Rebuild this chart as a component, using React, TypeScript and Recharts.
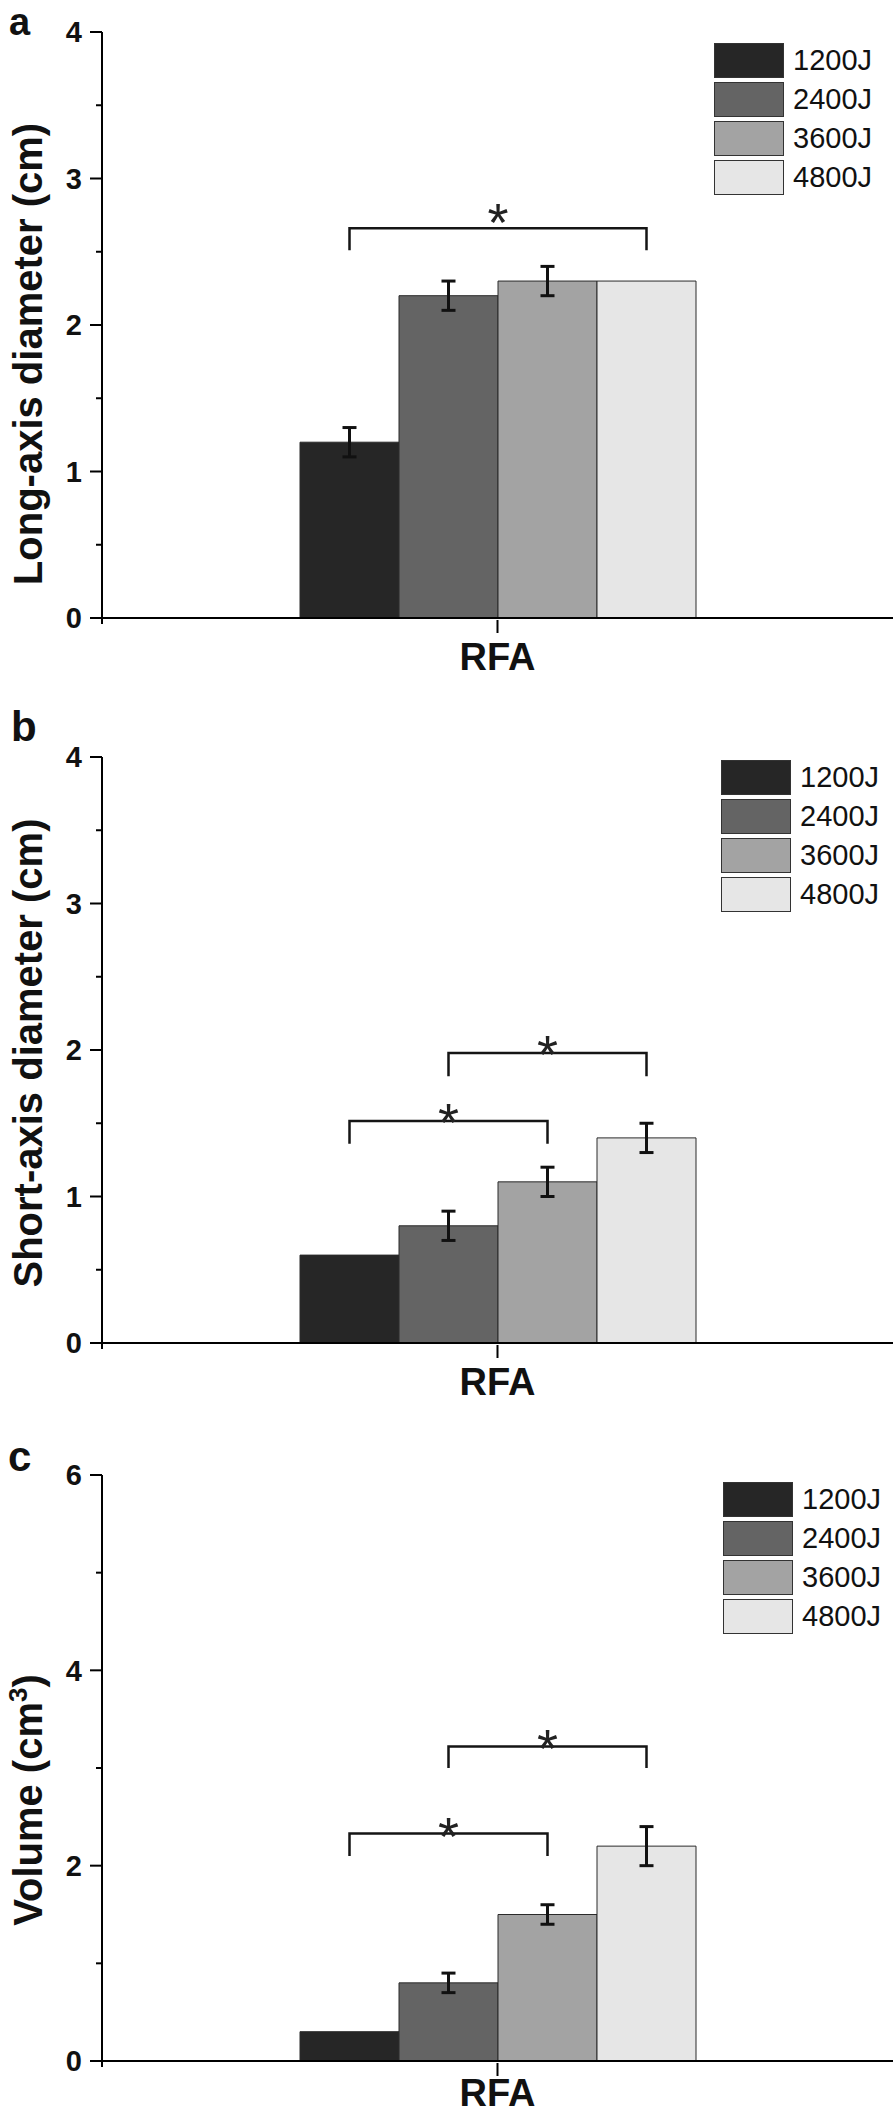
import React from 'react';
import { BarChart, Bar, XAxis, YAxis, ErrorBar } from 'recharts';

// ---------- data ----------
const categories = ['RFA'];
const seriesNames = ['1200J', '2400J', '3600J', '4800J'];
const seriesColors = ['#262626', '#646464', '#a3a3a3', '#e6e6e6'];

const longAxisMeans = [1.2, 2.2, 2.3, 2.3];
const longAxisErrors = [0.1, 0.1, 0.1, 0];
const shortAxisMeans = [0.6, 0.8, 1.1, 1.4];
const shortAxisErrors = [0, 0.1, 0.1, 0.1];
const volumeMeans = [0.3, 0.8, 1.5, 2.2];
const volumeErrors = [0, 0.1, 0.1, 0.2];

const diameterTicks = [0, 0.5, 1, 1.5, 2, 2.5, 3, 3.5, 4];
const volumeTicks = [0, 1, 2, 3, 4, 5, 6];

// significance brackets (series index from/to, bracket level, leg foot, star level)
const longAxisBrackets = [{ from: 0, to: 3, top: 2.66, foot: 2.51, star: 2.79 }];
const shortAxisBrackets = [
  { from: 0, to: 2, top: 1.515, foot: 1.36, star: 1.59 },
  { from: 1, to: 3, top: 1.98, foot: 1.82, star: 2.055 },
];
const volumeBrackets = [
  { from: 0, to: 2, top: 2.33, foot: 2.1, star: 2.43 },
  { from: 1, to: 3, top: 3.22, foot: 3.0, star: 3.33 },
];

type Bracket = { from: number; to: number; top: number; foot: number; star: number };

const FONT = "'Liberation Sans', Arial, Helvetica, sans-serif";

const buildRows = (means: number[], errors: number[]) =>
  categories.map((c) => {
    const row: Record<string, any> = { category: c };
    seriesNames.forEach((s, i) => {
      row[s] = means[i];
      row[s + '_err'] = errors[i] ? errors[i] : null;
    });
    return row;
  });

const YTick = (props: any) => {
  const { x, y, payload, majorStep } = props;
  const v = payload.value;
  const r = v / majorStep;
  const major = Math.abs(r - Math.round(r)) < 1e-6;
  return (
    <g>
      <line x1={x - (major ? 12 : 6)} x2={x} y1={y} y2={y} stroke="#000" strokeWidth={2} />
      {v === 0 && <line x1={x} x2={x} y1={y} y2={y + 6} stroke="#000" strokeWidth={2} />}
      {major && (
        <text x={x - 20} y={y} dy="0.36em" textAnchor="end" fontSize={29} fontWeight="bold" fontFamily={FONT} fill="#111">
          {v}
        </text>
      )}
    </g>
  );
};

const CornerTick = (props: any) => {
  const { x, y } = props;
  return <line x1={x} x2={x} y1={y} y2={y + 6} stroke="#000" strokeWidth={2} />;
};

const XTick = (props: any) => {
  const { x, y, payload, labelGap } = props;
  return (
    <g>
      <line x1={x} x2={x} y1={y} y2={y + 13} stroke="#000" strokeWidth={2} />
      <text x={x} y={y + labelGap} dy="0.71em" textAnchor="middle" fontSize={38} fontWeight="bold" fontFamily={FONT} fill="#111">
        {payload.value}
      </text>
    </g>
  );
};

// significance bracket drawn from the geometry of the "from" bar (library layout)
const BracketMark = (props: any) => {
  const { viewBox, value, brackets } = props;
  if (!viewBox || !value || !brackets || !brackets.length) return null;
  const { x, y, width, height } = viewBox;
  const top = Math.min(y, y + height);
  const h = Math.abs(height);
  const base = top + h;
  const pxPerUnit = h / value;
  const toY = (v: number) => base - v * pxPerUnit;
  const cx = x + width / 2;
  return (
    <g>
      {brackets.map((b: Bracket, k: number) => {
        const x1 = cx;
        const x2 = cx + (b.to - b.from) * width;
        const yTop = toY(b.top);
        const yFoot = toY(b.foot);
        const ys = toY(b.star);
        return (
          <g key={k}>
            <path
              d={`M${x1},${yFoot}L${x1},${yTop}L${x2},${yTop}L${x2},${yFoot}`}
              fill="none"
              stroke="#151515"
              strokeWidth={2.5}
            />
            <text x={(x1 + x2) / 2} y={ys} dy="0.58em" textAnchor="middle" fontSize={54} fontFamily={FONT} fill="#222">
              *
            </text>
          </g>
        );
      })}
    </g>
  );
};

const LegendBox = ({ left, top }: { left: number; top: number }) => (
  <div style={{ position: 'absolute', left, top }}>
    {seriesNames.map((s, i) => (
      <div key={s} style={{ display: 'flex', alignItems: 'center', height: 35, marginBottom: 4 }}>
        <div
          style={{
            width: 70,
            height: 35,
            boxSizing: 'border-box',
            background: seriesColors[i],
            border: '1.5px solid #333',
          }}
        />
        <span style={{ marginLeft: 9, fontSize: 29, fontFamily: FONT, color: '#111', lineHeight: '35px' }}>{s}</span>
      </div>
    ))}
  </div>
);

type PanelProps = {
  top: number;
  title: string;
  superscript?: string;
  titleShift: number;
  means: number[];
  errors: number[];
  yMax: number;
  ticks: number[];
  majorStep: number;
  brackets: Bracket[];
  legendLeft: number;
  legendTop: number;
  labelGap: number;
};

const Panel = (p: PanelProps) => {
  const rows = buildRows(p.means, p.errors);
  const titleLabel = (props: any) => {
    const vb = props.viewBox || {};
    const cx = 42;
    const cy = (vb.y || 0) + (vb.height || 0) / 2 + p.titleShift;
    return (
      <text
        x={cx}
        y={cy}
        transform={`rotate(-90, ${cx}, ${cy})`}
        textAnchor="middle"
        fontSize={40}
        fontWeight="bold"
        fontFamily={FONT}
        fill="#111"
      >
        {p.title}
        {p.superscript && (
          <>
            <tspan dy={-15} fontSize={26}>
              {p.superscript}
            </tspan>
            <tspan dy={15}>)</tspan>
          </>
        )}
      </text>
    );
  };
  return (
    <div style={{ position: 'absolute', left: 0, top: p.top, width: 896, height: 700 }}>
      <BarChart
        width={896}
        height={700}
        data={rows}
        margin={{ top: 32, right: 3, bottom: 0, left: 0 }}
        barGap={0}
        barSize={99}
      >
        <XAxis
          dataKey="category"
          height={82}
          tickSize={0}
          tickLine={false}
          axisLine={{ stroke: '#000', strokeWidth: 2 }}
          tick={<XTick labelGap={p.labelGap} />}
        />
        <XAxis
          xAxisId="top"
          dataKey="category"
          orientation="top"
          height={0}
          tick={false}
          tickLine={false}
          axisLine={{ stroke: '#000', strokeWidth: 2 }}
        />
        <YAxis
          type="number"
          domain={[0, p.yMax]}
          ticks={p.ticks}
          interval={0}
          width={102}
          tickSize={0}
          tickMargin={0}
          tickLine={false}
          axisLine={{ stroke: '#000', strokeWidth: 2 }}
          tick={<YTick majorStep={p.majorStep} />}
          label={titleLabel}
        />
        <YAxis
          yAxisId="right"
          orientation="right"
          type="number"
          domain={[0, p.yMax]}
          ticks={[0]}
          interval={0}
          width={0}
          tickSize={0}
          tickMargin={0}
          tickLine={false}
          tick={<CornerTick />}
          axisLine={{ stroke: '#000', strokeWidth: 2 }}
        />
        {seriesNames.map((s, i) => {
          const own = p.brackets.filter((b) => b.from === i);
          return (
            <Bar
              key={s}
              dataKey={s}
              name={s}
              fill={seriesColors[i]}
              stroke="#2a2a2a"
              strokeWidth={1}
              isAnimationActive={false}
              label={own.length ? <BracketMark brackets={own} /> : false}
            >
              <ErrorBar dataKey={s + '_err'} width={7} stroke="#111" strokeWidth={3} direction="y" />
            </Bar>
          );
        })}
      </BarChart>
      <LegendBox left={p.legendLeft} top={p.legendTop} />
    </div>
  );
};

export default function App() {
  return (
    <div style={{ position: 'absolute', left: 0, top: 0, width: 896, height: 2114, overflow: 'hidden', background: '#fff' }}>
      <Panel
        top={0}
        title="Long-axis diameter (cm)"
        titleShift={29}
        means={longAxisMeans}
        errors={longAxisErrors}
        yMax={4}
        ticks={diameterTicks}
        majorStep={1}
        brackets={longAxisBrackets}
        legendLeft={714}
        legendTop={43}
        labelGap={23}
      />
      <Panel
        top={725}
        title="Short-axis diameter (cm)"
        titleShift={3}
        means={shortAxisMeans}
        errors={shortAxisErrors}
        yMax={4}
        ticks={diameterTicks}
        majorStep={1}
        brackets={shortAxisBrackets}
        legendLeft={721}
        legendTop={35}
        labelGap={23}
      />
      <Panel
        top={1443}
        title="Volume (cm"
        superscript="3"
        titleShift={32}
        means={volumeMeans}
        errors={volumeErrors}
        yMax={6}
        ticks={volumeTicks}
        majorStep={2}
        brackets={volumeBrackets}
        legendLeft={723}
        legendTop={39}
        labelGap={16}
      />
      <svg width={896} height={2114} style={{ position: 'absolute', left: 0, top: 0, pointerEvents: 'none' }}>
        <text x={9} y={35} fontSize={38} fontWeight="bold" fontFamily={FONT} fill="#111">a</text>
        <text x={11} y={741} fontSize={42} fontWeight="bold" fontFamily={FONT} fill="#111">b</text>
        <text x={8} y={1471} fontSize={42} fontWeight="bold" fontFamily={FONT} fill="#111">c</text>
      </svg>
    </div>
  );
}
